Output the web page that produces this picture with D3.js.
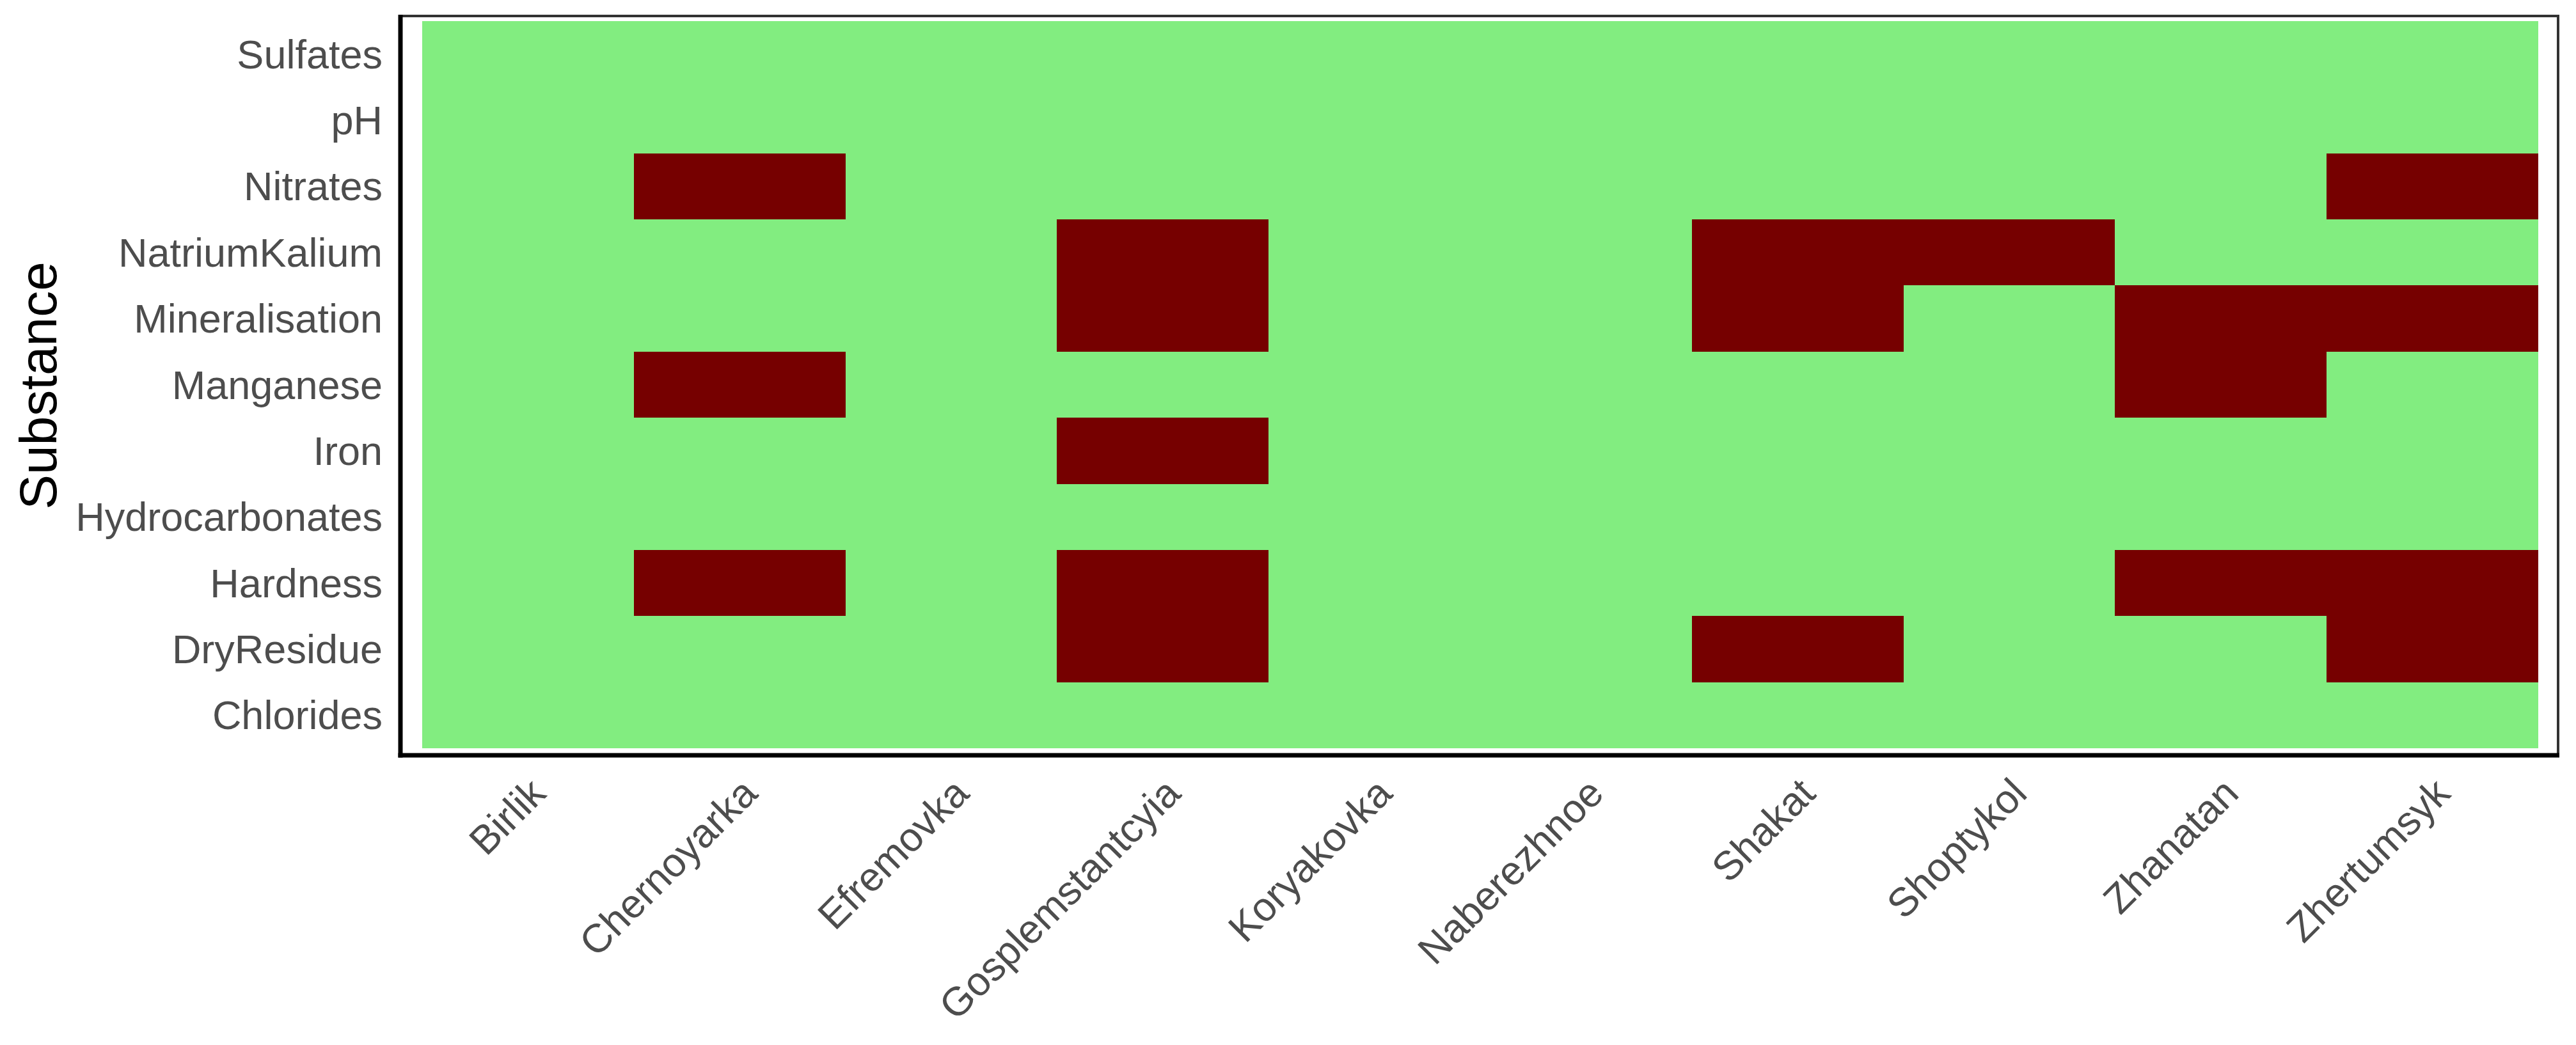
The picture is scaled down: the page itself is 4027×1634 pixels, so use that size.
<!DOCTYPE html>
<html>
<head>
<meta charset="utf-8">
<script src="https://cdn.jsdelivr.net/npm/d3@7"></script>
<style>
  html, body { margin: 0; padding: 0; background: #ffffff; }
  svg { display: block; }
  text { font-family: "Liberation Sans", Arial, Helvetica, sans-serif; }
</style>
</head>
<body>
<svg id="chart" width="4027" height="1634"></svg>
<script>
// ---- data ----
const villages = ["Birlik", "Chernoyarka", "Efremovka", "Gosplemstantcyia", "Koryakovka",
                  "Naberezhnoe", "Shakat", "Shoptykol", "Zhanatan", "Zhertumsyk"];
// bottom-to-top order of the y axis
const substances = ["Chlorides", "DryResidue", "Hardness", "Hydrocarbonates", "Iron",
                    "Manganese", "Mineralisation", "NatriumKalium", "Nitrates", "pH", "Sulfates"];
// 1 = exceeds norm, 0 = within norm ; one row per substance (same order as substances), columns = villages
const statusChlorides       = [0,0,0,0,0,0,0,0,0,0];
const statusDryResidue      = [0,0,0,1,0,0,1,0,0,1];
const statusHardness        = [0,1,0,1,0,0,0,0,1,1];
const statusHydrocarbonates = [0,0,0,0,0,0,0,0,0,0];
const statusIron            = [0,0,0,1,0,0,0,0,0,0];
const statusManganese       = [0,1,0,0,0,0,0,0,1,0];
const statusMineralisation  = [0,0,0,1,0,0,1,0,1,1];
const statusNatriumKalium   = [0,0,0,1,0,0,1,1,0,0];
const statusNitrates        = [0,1,0,0,0,0,0,0,0,1];
const statusPH              = [0,0,0,0,0,0,0,0,0,0];
const statusSulfates        = [0,0,0,0,0,0,0,0,0,0];
const statusRows = [statusChlorides, statusDryResidue, statusHardness, statusHydrocarbonates,
                    statusIron, statusManganese, statusMineralisation, statusNatriumKalium,
                    statusNitrates, statusPH, statusSulfates];
const statusLevels = [0, 1];
const statusColors = ["#82ED80", "#760000"];

// ---- build cells ----
const cells = [];
substances.forEach((s, i) => {
  villages.forEach((v, j) => {
    cells.push({ substance: s, village: v, value: statusRows[i][j] });
  });
});

// ---- layout ----
const svg = d3.select("#chart");
const tileLeft = 660, tileRight = 3968, tileTop = 33, tileBottom = 1170;
const panelLeft = 626, panelRight = 3999, panelTop = 25, panelBottom = 1181;

const x = d3.scaleBand().domain(villages).range([tileLeft, tileRight]).padding(0);
const y = d3.scaleBand().domain(substances).range([tileBottom, tileTop]).padding(0);
const color = d3.scaleOrdinal().domain(statusLevels).range(statusColors);

svg.append("rect").attr("x", 0).attr("y", 0).attr("width", 4027).attr("height", 1634).attr("fill", "#ffffff");

// tiles
svg.append("g").selectAll("rect")
  .data(cells)
  .join("rect")
  .attr("x", d => x(d.village))
  .attr("y", d => y(d.substance))
  .attr("width", x.bandwidth())
  .attr("height", y.bandwidth())
  .attr("fill", d => color(d.value))
  .attr("shape-rendering", "crispEdges");

// panel border
svg.append("rect")
  .attr("x", panelLeft).attr("y", panelTop)
  .attr("width", panelRight - panelLeft).attr("height", panelBottom - panelTop)
  .attr("fill", "none").attr("stroke", "#333333").attr("stroke-width", 4);

// axis lines (thicker black, left & bottom)
svg.append("line").attr("x1", panelLeft).attr("x2", panelLeft)
  .attr("y1", panelTop - 2).attr("y2", panelBottom + 3.5)
  .attr("stroke", "#000").attr("stroke-width", 7);
svg.append("line").attr("x1", panelLeft - 3.5).attr("x2", panelRight + 2)
  .attr("y1", panelBottom).attr("y2", panelBottom)
  .attr("stroke", "#000").attr("stroke-width", 7);

// y axis
const yAxis = svg.append("g")
  .attr("transform", `translate(${panelLeft},0)`)
  .call(d3.axisLeft(y).tickSize(0).tickPadding(28));
yAxis.select(".domain").remove();
yAxis.selectAll("text")
  .attr("font-size", 63)
  .attr("fill", "#4D4D4D")
  .attr("font-family", "'Liberation Sans', Arial, sans-serif")
  .attr("dy", "0.35em");

// x axis
const xAxis = svg.append("g")
  .attr("transform", `translate(0,${panelBottom})`)
  .call(d3.axisBottom(x).tickSize(0));
xAxis.select(".domain").remove();
xAxis.selectAll("text")
  .attr("font-size", 63)
  .attr("fill", "#4D4D4D")
  .attr("font-family", "'Liberation Sans', Arial, sans-serif")
  .attr("x", 0).attr("y", 0).attr("dy", 0)
  .attr("text-anchor", "end")
  .attr("transform", "translate(31,63) rotate(-45)");

// y axis title
svg.append("text")
  .attr("transform", `translate(88,${(panelTop + panelBottom) / 2}) rotate(-90)`)
  .attr("text-anchor", "middle")
  .attr("font-size", 82)
  .attr("fill", "#000000")
  .text("Substance");
</script>
</body>
</html>
